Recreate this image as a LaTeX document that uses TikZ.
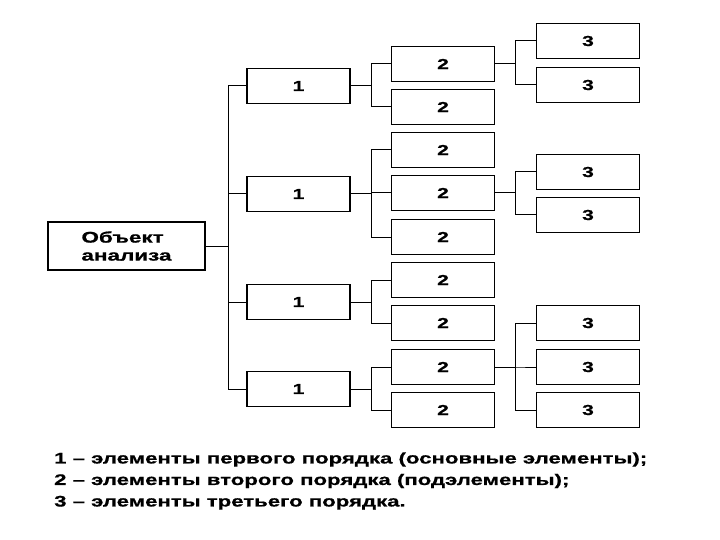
\documentclass[tikz,border=0pt]{standalone}
\usepackage{fontspec}
\setmainfont{Liberation Sans}
\newfontfamily\wide[FakeStretch=1.45,FakeBold=0.8]{Liberation Sans}
\begin{document}
\begin{tikzpicture}[x=1pt,y=-1pt,
  box/.style={draw=black,line width=1.4pt,fill=white,minimum width=103pt,minimum height=35pt,inner sep=0pt,font=\wide\bfseries\fontsize{14.5}{16}\selectfont},
  conn/.style={draw=black,line width=1pt}]
\useasboundingbox (0,0) rectangle (720,540);
\node[box,minimum width=157pt,minimum height=48pt,align=left,font=\wide\bfseries\fontsize{15.5}{18}\selectfont] (o) at (126.5,246) {Объект\\анализа};
% level 1
\node[box] (a1) at (298.5,86) {1};
\node[box] (a2) at (298.5,194) {1};
\node[box] (a3) at (298.5,302) {1};
\node[box] (a4) at (298.5,389) {1};
% level 2
\node[box] (b11) at (443,64) {2};
\node[box] (b12) at (443,107) {2};
\node[box] (b21) at (443,150) {2};
\node[box] (b22) at (443,193) {2};
\node[box] (b23) at (443,237) {2};
\node[box] (b31) at (443,280) {2};
\node[box] (b32) at (443,323) {2};
\node[box] (b41) at (443,367) {2};
\node[box] (b42) at (443,410) {2};
% level 3
\node[box] (c11) at (588,41) {3};
\node[box] (c12) at (588,85) {3};
\node[box] (c21) at (588,172) {3};
\node[box] (c22) at (588,215) {3};
\node[box] (c41) at (588,323) {3};
\node[box] (c42) at (588,367) {3};
\node[box] (c43) at (588,410) {3};
% connectors
\foreach \c in {a1,a2,a3,a4} \draw[conn] (o.east) -- ++(23,0) |- (\c.west);
\foreach \c in {b11,b12} \draw[conn] (a1.east) -- ++(21,0) |- (\c.west);
\foreach \c in {b21,b22,b23} \draw[conn] (a2.east) -- ++(21,0) |- (\c.west);
\foreach \c in {b31,b32} \draw[conn] (a3.east) -- ++(21,0) |- (\c.west);
\foreach \c in {b41,b42} \draw[conn] (a4.east) -- ++(21,0) |- (\c.west);
\foreach \c in {c11,c12} \draw[conn] (b11.east) -- ++(20,0) |- (\c.west);
\foreach \c in {c21,c22} \draw[conn] (b22.east) -- ++(20,0) |- (\c.west);
\foreach \c in {c41,c42,c43} \draw[conn] (b41.east) -- ++(20,0) |- (\c.west);
% legend
\node[anchor=west,align=left,font=\wide\bfseries\fontsize{15.3}{21.5}\selectfont,inner sep=0pt] (leg) at (54,481)
 {1 – элементы первого порядка (основные элементы);\\
  2 – элементы второго порядка (подэлементы);\\
  3 – элементы третьего порядка.};
\end{tikzpicture}
\end{document}
